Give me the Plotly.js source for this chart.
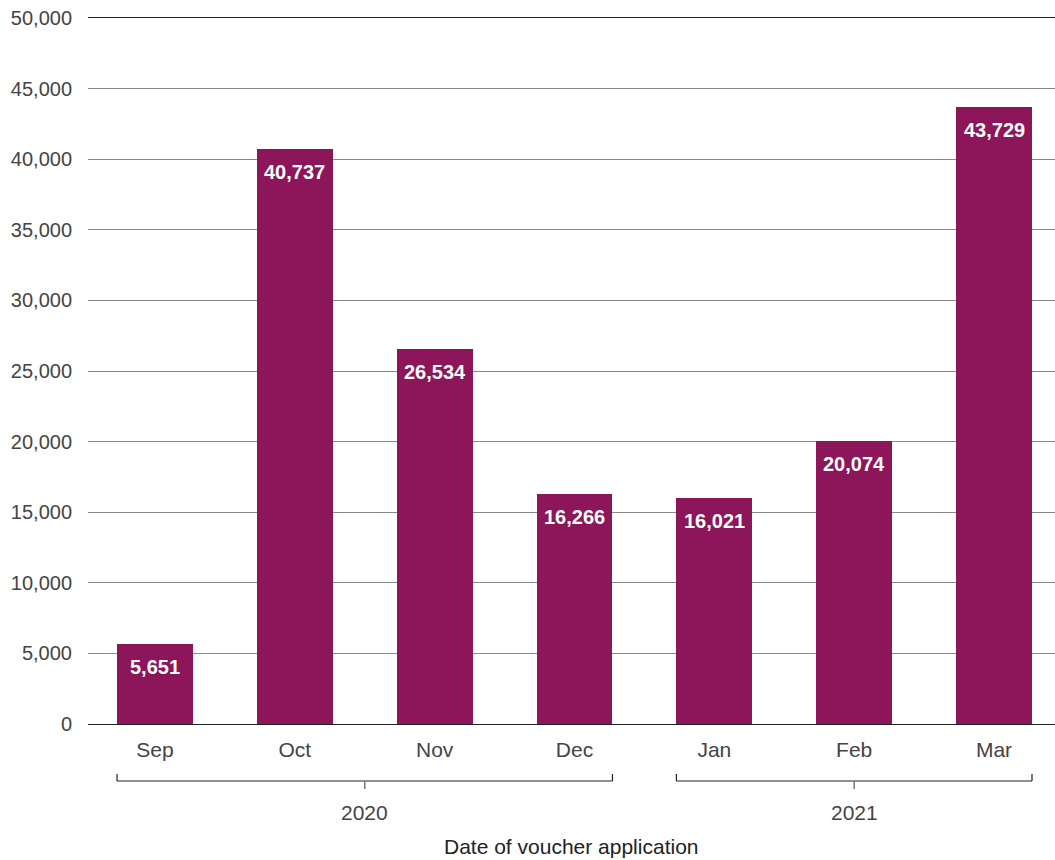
<!DOCTYPE html>
<html>
<head>
<meta charset="utf-8">
<script src="https://cdn.plot.ly/plotly-3.0.1.min.js"></script>
<style>html,body{margin:0;padding:0;background:#fff;}#chart{width:1055px;height:860px;}</style>
</head>
<body>
<div id="chart"></div>
<script>
const months = ['Sep', 'Oct', 'Nov', 'Dec', 'Jan', 'Feb', 'Mar'];
const applications = [5651, 40737, 26534, 16266, 16021, 20074, 43729];
const years = ['2020', '2021'];
const yearFirstIndex = [0, 4];
const yearLastIndex = [3, 6];
const yTicks = [0, 5000, 10000, 15000, 20000, 25000, 30000, 35000, 40000, 45000, 50000];
const xTitle = 'Date of voucher application';

const W = 1055, H = 860, mL = 88, mR = 0, mT = 18, mB = 136;
const plotH = H - mT - mB;
const py = px => (H - mB - px) / plotH; // pixel row -> paper y
const barWidth = 0.543;
const FONT = 'Liberation Sans, Arial, sans-serif';
const barColor = '#8d1559';

const idx = months.map((m, i) => i);

const trace = {
  type: 'bar',
  x: idx,
  y: applications,
  width: barWidth,
  marker: {color: barColor, line: {width: 0}},
  hoverinfo: 'skip'
};

const annotations = applications.map((v, i) => ({
  x: i, y: v, xref: 'x', yref: 'y',
  text: v.toLocaleString('en-US'),
  showarrow: false, yanchor: 'top', yshift: -10,
  font: {family: FONT, size: 20, color: '#ffffff', weight: 'bold'}
}));

const shapes = [];
const lineStyle = {color: '#222', width: 1.2};
const tickStyle = {color: '#777', width: 1.5};
years.forEach((yr, k) => {
  const x0 = yearFirstIndex[k] - barWidth / 2;
  const x1 = yearLastIndex[k] + barWidth / 2;
  const xm = (x0 + x1) / 2;
  shapes.push({type: 'line', xref: 'x', yref: 'paper', x0: x0, x1: x1, y0: py(781), y1: py(781), line: lineStyle});
  shapes.push({type: 'line', xref: 'x', yref: 'paper', x0: x0, x1: x0, y0: py(781), y1: py(774), line: lineStyle});
  shapes.push({type: 'line', xref: 'x', yref: 'paper', x0: x1, x1: x1, y0: py(781), y1: py(774), line: lineStyle});
  shapes.push({type: 'line', xref: 'x', yref: 'paper', x0: xm, x1: xm, y0: py(781), y1: py(789), line: tickStyle});
  annotations.push({
    x: xm, xref: 'x', y: py(812), yref: 'paper', text: yr, showarrow: false,
    yanchor: 'middle', font: {family: FONT, size: 21, color: '#444'}
  });
});

annotations.push({
  x: 0.5, xref: 'paper', y: py(847), yref: 'paper', text: xTitle, showarrow: false,
  yanchor: 'middle', font: {family: FONT, size: 21, color: '#222'}
});

const layout = {
  width: W, height: H,
  margin: {l: mL, r: mR, t: mT, b: mB, pad: 0},
  paper_bgcolor: '#fff', plot_bgcolor: '#fff',
  showlegend: false,
  font: {family: FONT, size: 20, color: '#444'},
  xaxis: {
    range: [-0.479, 6.436],
    tickvals: idx, ticktext: months,
    showgrid: false, zeroline: false,
    showline: true, linecolor: '#222', linewidth: 1.2, mirror: true,
    ticks: 'outside', ticklen: 7, tickcolor: 'rgba(0,0,0,0)',
    tickfont: {family: FONT, size: 21, color: '#444'},
    fixedrange: true
  },
  yaxis: {
    range: [0, 50000],
    tickvals: yTicks,
    ticktext: yTicks.map(v => v.toLocaleString('en-US')),
    showgrid: true, gridcolor: '#8a8a8a', gridwidth: 1,
    zeroline: false, showline: false,
    ticks: 'outside', ticklen: 11, tickcolor: 'rgba(0,0,0,0)',
    tickfont: {family: FONT, size: 20, color: '#444'},
    fixedrange: true
  },
  shapes: shapes,
  annotations: annotations,
  bargap: 0
};

Plotly.newPlot('chart', [trace], layout, {displayModeBar: false, staticPlot: true});
</script>
</body>
</html>
